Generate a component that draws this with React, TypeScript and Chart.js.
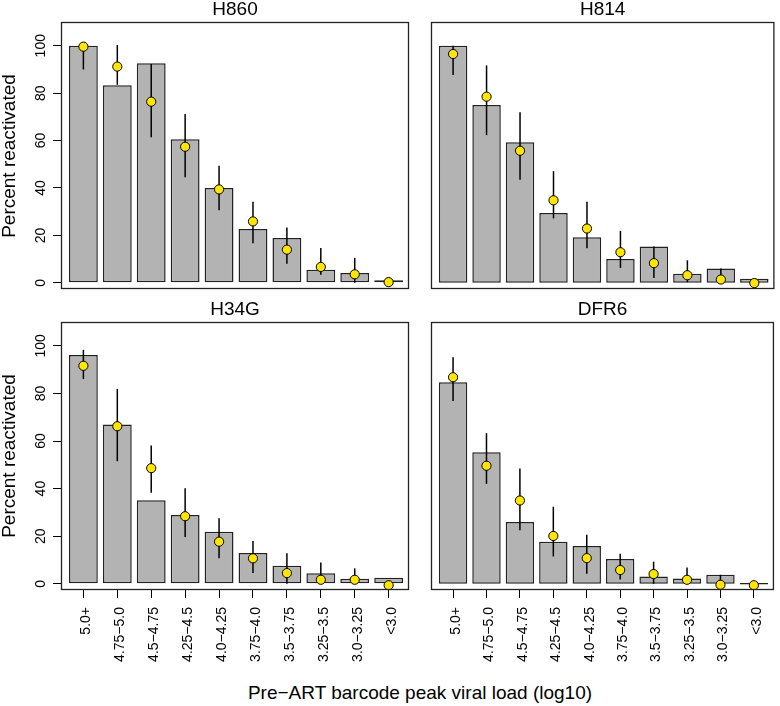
import React, { useEffect, useRef } from "react";
import { Chart, registerables } from "chart.js";

Chart.register(...registerables);

const FONT = "'Liberation Sans', Arial, Helvetica, sans-serif";

const CATEGORIES = ["5.0+", "4.75−5.0", "4.5−4.75", "4.25−4.5", "4.0−4.25", "3.75−4.0", "3.5−3.75", "3.25−3.5", "3.0−3.25", "<3.0"];
const Y_TICKS = [0, 20, 40, 60, 80, 100];

const H860_BARS = [100, 83.3, 92.6, 60.6, 40.0, 22.7, 18.9, 5.5, 4.2, 1.1];
const H860_POINTS = [99.6, 91.2, 76.4, 57.4, 39.4, 25.9, 14.0, 6.7, 3.6, 0.3];
const H860_LOW = [90.0, 83.5, 61.4, 44.5, 30.6, 16.7, 8.1, 3.4, 0, 0];
const H860_HIGH = [100, 100.3, 92.3, 71.2, 49.4, 34.2, 23.3, 14.7, 10.5, 1.0];

const H814_BARS = [100, 75.0, 59.3, 29.5, 19.2, 10.1, 15.3, 3.8, 6.0, 1.7];
const H814_POINTS = [96.5, 78.5, 55.7, 34.8, 22.9, 12.9, 8.3, 3.2, 1.4, -0.1];
const H814_LOW = [87.7, 62.3, 43.5, 27.2, 14.6, 6.3, 2.0, 0.3, 0, 0];
const H814_HIGH = [100, 91.7, 71.9, 47.1, 34.2, 21.9, 15.3, 9.5, 6.0, 0.5];

const H34G_BARS = [96.1, 66.9, 35.1, 28.9, 21.9, 12.9, 7.6, 4.4, 2.1, 2.5];
const H34G_POINTS = [91.6, 66.2, 48.6, 28.4, 17.7, 10.7, 4.5, 1.7, 1.7, -0.6];
const H34G_LOW = [86.0, 51.5, 38.3, 19.7, 10.7, 4.5, 0, 0, 0, 0];
const H34G_HIGH = [98.3, 81.9, 58.1, 40.2, 27.5, 18.0, 12.8, 9.0, 6.5, 0.5];

const DFR6_BARS = [84.7, 55.3, 26.0, 17.7, 15.9, 10.4, 3.1, 2.2, 3.8, 0];
const DFR6_POINTS = [86.8, 49.6, 35.0, 20.1, 10.8, 5.8, 4.1, 1.7, -0.4, -0.6];
const DFR6_LOW = [76.8, 42.0, 22.5, 11.5, 4.2, 1.8, 0, 0, 0, 0];
const DFR6_HIGH = [95.2, 63.3, 48.5, 32.4, 20.6, 12.6, 9.3, 6.9, 3.8, 0];

const Y_MIN = -2.6;
const Y_MAX = 110;
const X_MIN = -0.66;
const X_MAX = 9.6;

type PanelProps = {
  title: string;
  bars: number[];
  points: number[];
  low: number[];
  high: number[];
  showY: boolean;
  showX: boolean;
  left: number;
  top: number;
  width: number;
  height: number;
  padding: { left: number; right: number; top: number; bottom: number };
};

function Panel(props: PanelProps) {
  const ref = useRef<HTMLCanvasElement | null>(null);
  useEffect(() => {
    const canvas = ref.current;
    if (!canvas) return;
    const { title, bars, points, low, high, showX, showY, padding } = props;

    const decor = {
      id: "panelDecor",
      beforeDatasetDraw(chart: any, args: any) {
        if (args.index !== 1) return;
        const ctx = chart.ctx;
        const xs = chart.scales.x;
        const ys = chart.scales.y;
        ctx.save();
        ctx.strokeStyle = "#000";
        ctx.lineWidth = 1.5;
        for (let i = 0; i < low.length; i++) {
          const px = xs.getPixelForValue(i);
          ctx.beginPath();
          ctx.moveTo(px, ys.getPixelForValue(low[i]));
          ctx.lineTo(px, ys.getPixelForValue(high[i]));
          ctx.stroke();
        }
        ctx.restore();
      },
      afterDraw(chart: any) {
        const ctx = chart.ctx;
        const a = chart.chartArea;
        ctx.save();
        ctx.strokeStyle = "#222";
        ctx.lineWidth = 1.3;
        ctx.strokeRect(a.left + 0.5, a.top + 0.5, a.right - a.left - 1, a.bottom - a.top - 1);
        ctx.fillStyle = "#000";
        ctx.font = `19px ${FONT}`;
        ctx.textAlign = "center";
        ctx.textBaseline = "alphabetic";
        ctx.fillText(title, (a.left + a.right) / 2, a.top - 7);
        ctx.restore();
      },
    };

    const chart = new Chart(canvas, {
      type: "bar",
      data: {
        datasets: [
          {
            type: "bar",
            data: bars.map((v, i) => ({ x: i, y: v })),
            backgroundColor: "#B3B3B3",
            borderColor: "#222",
            borderWidth: 1.5,
            borderSkipped: false,
            barPercentage: 0.85,
            categoryPercentage: 1,
            minBarLength: 1.5,
            order: 2,
          } as any,
          {
            type: "line",
            data: points.map((v, i) => ({ x: i, y: v })),
            showLine: false,
            pointRadius: 4.6,
            pointBackgroundColor: "#FFE600",
            pointBorderColor: "#000",
            pointBorderWidth: 1,
            order: 1,
          } as any,
        ],
      },
      options: {
        animation: false,
        responsive: false,
        maintainAspectRatio: false,
        layout: { padding },
        plugins: {
          legend: { display: false },
          tooltip: { enabled: false },
          title: { display: false },
        },
        scales: {
          x: {
            type: "linear",
            min: X_MIN,
            max: X_MAX,
            offset: false,
            display: showX,
            afterBuildTicks: (s: any) => {
              s.ticks = CATEGORIES.map((_, i) => ({ value: i }));
            },
            afterFit: (s: any) => {
              s.height = showX ? 90 : 0;
            },
            grid: { offset: false, drawOnChartArea: false, drawTicks: true, tickLength: 8, color: "#000", lineWidth: 1 },
            border: { display: false },
            ticks: {
              minRotation: 90,
              maxRotation: 90,
              autoSkip: false,
              padding: 9,
              labelOffset: 3,
              color: "#000",
              font: { family: FONT, size: 14 },
              callback: (v: any) => CATEGORIES[v as number],
            },
          },
          y: {
            type: "linear",
            min: Y_MIN,
            max: Y_MAX,
            display: showY,
            afterBuildTicks: (s: any) => {
              s.ticks = Y_TICKS.map((v) => ({ value: v }));
            },
            afterFit: (s: any) => {
              s.width = showY ? 61 : 0;
            },
            grid: { drawOnChartArea: false, drawTicks: true, tickLength: 8, color: "#000", lineWidth: 1 },
            border: { display: false },
            ticks: {
              minRotation: 90,
              maxRotation: 90,
              crossAlign: "center",
              padding: 0,
              color: "#000",
              font: { family: FONT, size: 14 },
            },
          },
        },
      } as any,
      plugins: [decor],
    });
    return () => chart.destroy();
  }, []);

  return (
    <canvas
      ref={ref}
      width={props.width}
      height={props.height}
      style={{ position: "absolute", left: props.left, top: props.top, width: props.width, height: props.height }}
    />
  );
}

const labelStyle: React.CSSProperties = {
  position: "absolute",
  fontFamily: FONT,
  fontSize: 19,
  color: "#000",
  textAlign: "center",
  whiteSpace: "nowrap",
  height: 24,
  lineHeight: "24px",
  width: 400,
};

export default function App() {
  return (
    <div style={{ position: "absolute", left: 0, top: 0, width: 780, height: 706, background: "#fff", overflow: "hidden" }}>
      <Panel title="H860" bars={H860_BARS} points={H860_POINTS} low={H860_LOW} high={H860_HIGH}
        showY={true} showX={false} left={0} top={0} width={420} height={300}
        padding={{ left: 0, right: 11, top: 22, bottom: 11 }} />
      <Panel title="H814" bars={H814_BARS} points={H814_POINTS} low={H814_LOW} high={H814_HIGH}
        showY={false} showX={false} left={420} top={0} width={360} height={300}
        padding={{ left: 11, right: 2, top: 22, bottom: 11 }} />
      <Panel title="H34G" bars={H34G_BARS} points={H34G_POINTS} low={H34G_LOW} high={H34G_HIGH}
        showY={true} showX={true} left={0} top={300} width={420} height={380}
        padding={{ left: 0, right: 11, top: 22, bottom: 0 }} />
      <Panel title="DFR6" bars={DFR6_BARS} points={DFR6_POINTS} low={DFR6_LOW} high={DFR6_HIGH}
        showY={false} showX={true} left={420} top={300} width={360} height={380}
        padding={{ left: 11, right: 2, top: 22, bottom: 0 }} />
      <div style={{ ...labelStyle, left: 9 - 200, top: 155.5 - 12, transform: "rotate(-90deg)" }}>Percent reactivated</div>
      <div style={{ ...labelStyle, left: 9 - 200, top: 456 - 12, transform: "rotate(-90deg)" }}>Percent reactivated</div>
      <div style={{ ...labelStyle, left: 420 - 200, top: 693 - 12 }}>Pre−ART barcode peak viral load (log10)</div>
    </div>
  );
}
